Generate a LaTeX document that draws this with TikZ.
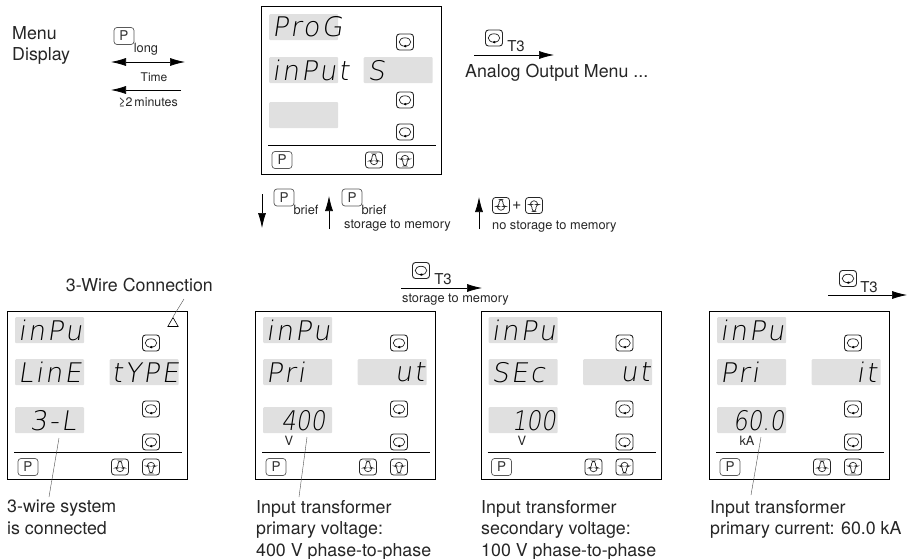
\documentclass[tikz,border=0pt]{standalone}
\usepackage{fontspec}
\setmainfont{TeX Gyre Heros}
\newfontfamily\segfont[FakeSlant=0.15,LetterSpace=8]{DejaVu Sans ExtraLight}
\newfontfamily\segnum[FakeSlant=0.15,FakeStretch=0.85]{DejaVu Sans ExtraLight}
\usetikzlibrary{calc,positioning,arrows.meta,shapes.geometric}
\tikzset{
    frame/.style={
        rectangle,
        draw=black,
        line width=0.9pt,
        minimum width=180pt,
        minimum height=168pt,
        inner sep=0pt,
    },
    segbox/.style={
        rectangle,
        fill=black!12,
        rounded corners=1pt,
        minimum width=69pt,
        minimum height=26pt,
        inner sep=0pt,
    },
    segtext/.style={
        font=\segfont\fontsize{27}{27}\selectfont,
        inner sep=0pt,
        text=black,
    },
    segdigits/.style={
        font=\segnum\fontsize{27}{27}\selectfont,
        inner sep=0pt,
        text=black,
    },
    btn/.style={
        rectangle,
        draw=black!85,
        line width=0.8pt,
        rounded corners=3pt,
        minimum width=17pt,
        minimum height=16pt,
        inner sep=0pt,
    },
    pbtn/.style={
        btn,
        draw=black!65,
        line width=0.7pt,
        minimum width=20pt,
        minimum height=17pt,
        font=\fontsize{13.5}{13.5}\selectfont,
        text=black!80,
    },
    cyclebtn/.style={
        btn,
        line width=0.9pt,
        path picture={
            \draw[line width=0.7pt,shift={(path picture bounding box.center)}] (0,0) ellipse (5.8pt and 4.2pt);
            \fill[shift={(path picture bounding box.center)}] (-1,2.2) -- (3,4.2) -- (-1,6.2) -- cycle;
        },
    },
    downbtn/.style={
        btn,
        path picture={
            \draw[line width=0.7pt,shift={(path picture bounding box.center)}]
                (-2,-6) -- (2,-6) -- (2,1) -- (5,1) -- (0,6) -- (-5,1) -- (-2,1) -- cycle;
        },
    },
    upbtn/.style={
        btn,
        path picture={
            \draw[line width=0.7pt,shift={(path picture bounding box.center)}]
                (-2,6) -- (2,6) -- (2,-1) -- (5,-1) -- (0,-6) -- (-5,-1) -- (-2,-1) -- cycle;
        },
    },
    big/.style={
        font=\fontsize{17.8}{21.5}\selectfont,
        align=left,
        inner sep=0pt,
        text=black!85,
    },
    small/.style={
        font=\fontsize{12.8}{14}\selectfont,
        inner sep=0pt,
        text=black!85,
    },
    tee/.style={
        font=\fontsize{15}{15}\selectfont,
        inner sep=0pt,
        text=black!85,
    },
    flow/.style={
        -{Latex[length=15pt,width=8pt]},
        line width=0.7pt,
    },
    leader/.style={
        draw=black!70,
        line width=0.4pt,
    },
}

\begin{document}
\begin{tikzpicture}[x=1pt,y=-1pt]
    \useasboundingbox (0,0) rectangle (907,559);

    % the five panels: name/x/y/first box/second box/cycle keys/rule
    \foreach \p/\x/\y/\ga/\gb/\ca/\cb/\cc/\r in {
        top/261/6/8/51/28/86/118/139,
        wire/7/311/6/48/24/90/123/141,
        pri/255/311/6/48/24/90/123/141,
        sec/480.5/311/6/48/24/90/123/141,
        cur/709/311/6/48/24/90/123/141}{
        \begin{scope}[shift={(\x,\y)}]
            \node[frame,anchor=north west](\p) at (0,0) {};
            \node[segbox,anchor=north west](\p-ga) at (8,\ga) {};
            \node[segbox,anchor=north west](\p-gb) at (8,\gb) {};
            \node[segbox,anchor=north west](\p-gc) at (102.5,\gb) {};
            \node[segbox,anchor=north west](\p-gd) at (8,96) {};
            \node[cyclebtn](\p-ca) at (144,\ca+8) {};
            \node[cyclebtn](\p-cb) at (144,\cb+8) {};
            \node[cyclebtn](\p-cc) at (144,\cc+8) {};
            \coordinate (\p-rl) at (7,\r);
            \coordinate (\p-rr) at (175,\r);
            \draw[line width=0.6pt] (\p-rl) -- (\p-rr);
            \node[pbtn](\p-p) at (21,\r+15) {P};
            \node[downbtn](\p-dn) at (113,\r+15) {};
            \node[upbtn](\p-up) at (144,\r+15) {};
        \end{scope}
    }

    % display texts
    \node[segtext,anchor=west](t1) at ([xshift=3pt]top-ga.west) {ProG};
    \node[segtext,anchor=west](t2) at ([xshift=3pt]top-gb.west) {inPut};
    \node[segtext,anchor=west](t3) at ([xshift=4pt]top-gc.west) {S};

    \node[segtext,anchor=west](w1) at ([xshift=3pt]wire-ga.west) {inPu};
    \node[segtext,anchor=west](w2) at ([xshift=3pt]wire-gb.west) {LinE};
    \node[segtext,anchor=east](w3) at ([xshift=0pt]wire-gc.east) {tYPE};
    \node[segtext,anchor=east](w4) at ([xshift=-8pt]wire-gd.east) {3-L};

    \node[segtext,anchor=west](p1) at ([xshift=3pt]pri-ga.west) {inPu};
    \node[segtext,anchor=west](p2) at ([xshift=3pt]pri-gb.west) {Pri};
    \node[segtext,anchor=east](p3) at ([xshift=-2pt]pri-gc.east) {ut};
    \node[segdigits,anchor=east](p4) at ([xshift=-7pt]pri-gd.east) {400};

    \node[segtext,anchor=west](s1) at ([xshift=3pt]sec-ga.west) {inPu};
    \node[segtext,anchor=west](s2) at ([xshift=3pt]sec-gb.west) {SEc};
    \node[segtext,anchor=east](s3) at ([xshift=-2pt]sec-gc.east) {ut};
    \node[segdigits,anchor=east](s4) at ([xshift=-2pt]sec-gd.east) {100};

    \node[segtext,anchor=west](c1) at ([xshift=3pt]cur-ga.west) {inPu};
    \node[segtext,anchor=west](c2) at ([xshift=3pt]cur-gb.west) {Pri};
    \node[segtext,anchor=east](c3) at ([xshift=-4pt]cur-gc.east) {it};
    \node[segdigits,anchor=east](c4) at ([xshift=-2pt]cur-gd.east) {60.0};

    \node[small](pv) at (289,441) {V};
    \node[small](sv) at (522,441) {V};
    \node[small](ck) at (747,441) {kA};

    % top left
    \node[big,anchor=north west](menu) at (12,26) {Menu\\Display};
    \node[pbtn](plong) at (124,36) {P};
    \node[small](long) at (146,49) {long};
    \coordinate (la) at (111,62);
    \coordinate (lb) at (185,62);
    \draw[{Latex[length=15pt,width=8pt]}-{Latex[length=15pt,width=8pt]},line width=0.7pt] (la) -- (lb);
    \node[small,font=\fontsize{12}{14}\selectfont](time) at (154,77) {Time};
    \coordinate (ma) at (181,90);
    \coordinate (mb) at (111,90);
    \draw[flow] (ma) -- (mb);
    \node[small,font=\fontsize{12.4}{14}\selectfont](mins) at (148,102) {≥2\,minutes};

    % top right
    \node[cyclebtn](tc) at (494,38) {};
    \node[tee](t3a) at (516,46) {T3};
    \coordinate (na) at (474,55);
    \coordinate (nb) at (554,55);
    \draw[flow] (na) -- (nb);
    \node[big,anchor=west](analog) at (465,73) {Analog Output Menu ...};

    % below the top panel
    \coordinate (da) at (262,194);
    \coordinate (db) at (262,228);
    \draw[flow] (da) -- (db);
    \node[pbtn](pb1) at (284,197.5) {P};
    \node[small](br1) at (306,210) {brief};
    \coordinate (ua) at (329,229);
    \coordinate (ub) at (329,196);
    \draw[flow] (ua) -- (ub);
    \node[pbtn](pb2) at (352,197.5) {P};
    \node[small](br2) at (374,210) {brief};
    \node[small,anchor=west](st1) at (344,226) {storage to memory};
    \coordinate (va) at (479,229);
    \coordinate (vb) at (479,197);
    \draw[flow] (va) -- (vb);
    \node[downbtn](dn2) at (501,205.5) {};
    \node[tee,font=\fontsize{16}{16}\selectfont,right=2pt of dn2](plus) {+};
    \node[upbtn](up2) at (534,205.5) {};
    \node[small,anchor=west](st2) at (492,227) {no storage to memory};

    % arrows over the lower panels
    \node[cyclebtn](rc1) at (421,270.5) {};
    \node[tee](t3b) at (443,279) {T3};
    \coordinate (ra) at (401,288);
    \coordinate (rb) at (482,288);
    \draw[flow] (ra) -- (rb);
    \node[small,anchor=west](st3) at (402,300) {storage to memory};

    \node[cyclebtn](rc2) at (848,278.5) {};
    \node[tee](t3c) at (869,287) {T3};
    \coordinate (qa) at (828,295);
    \coordinate (qb) at (907,295);
    \draw[flow] (qa) -- (qb);

    % notes and their leaders
    \node[big,anchor=east](wirecon) at (213,285) {3-Wire Connection};
    \node[draw,regular polygon,regular polygon sides=3,minimum size=12pt,inner sep=0pt,line width=0.6pt](delta) at (173,323.5) {};
    \coordinate (dl) at (184,299);
    \draw[leader] (dl) -- (delta.north);

    \node[big,anchor=north west](nw) at (7,500) {3-wire system\\is connected};
    \node[big,anchor=north west](np) at (256,500) {Input transformer\\primary voltage:\\400 V phase-to-phase};
    \node[big,anchor=north west](ns) at (481,500) {Input transformer\\secondary voltage:\\100 V phase-to-phase};
    \node[big,anchor=north west](nc) at (710,500) {Input transformer\\primary current: 60.0 kA};

    \coordinate (l1) at (59,438);
    \coordinate (l2) at (49,497);
    \draw[leader] (l1) -- (l2);
    \coordinate (l3) at (307,437);
    \coordinate (l4) at (299,497);
    \draw[leader] (l3) -- (l4);
    \coordinate (l5) at (761,437);
    \coordinate (l6) at (751,495);
    \draw[leader] (l5) -- (l6);
\end{tikzpicture}
\end{document}
